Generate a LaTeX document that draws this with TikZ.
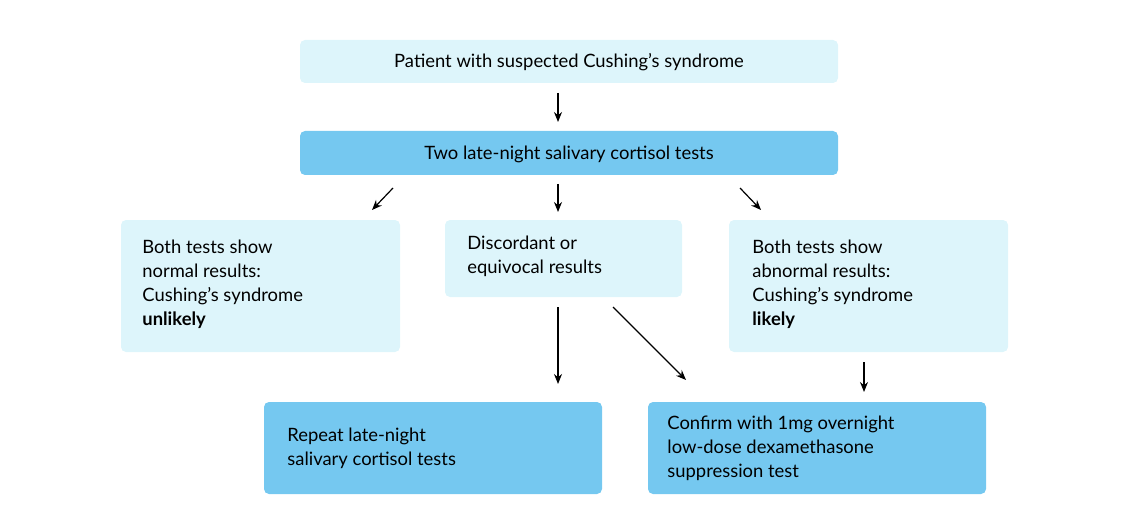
\documentclass[tikz,border=0pt]{standalone}
\usepackage{fontspec}
\setmainfont{Lato}
\usetikzlibrary{arrows.meta}
\definecolor{lb}{HTML}{DDF5FB}
\definecolor{db}{HTML}{75C8F0}
\begin{document}
\begin{tikzpicture}[x=0.5pt,y=-0.5pt,
 box/.style={rounded corners=2.5pt,draw=none},
 txt/.style={anchor=north west,align=left,font=\fontsize{9.2}{12}\selectfont,inner sep=0},
 ctxt/.style={anchor=center,font=\fontsize{9.2}{12}\selectfont,inner sep=0},
 arr/.style={-{Stealth[length=5pt,width=4pt]},line width=0.6pt}]
\useasboundingbox (0,0) rectangle (1138,529);
\fill[box,lb] (300,40) rectangle (838,83);
\node[ctxt] (t1) at (569,62) {Patient with suspected Cushing’s syndrome};
\fill[box,db] (300,131) rectangle (838,175);
\node[ctxt] (t2) at (569,154) {Two late-night salivary cortisol tests};
\fill[box,lb] (121,220) rectangle (400,352);
\node[txt] (t3) at (142,240) {Both tests show\\normal results:\\Cushing’s syndrome\\\textbf{unlikely}};
\fill[box,lb] (445,220) rectangle (682,297);
\node[txt] (t4) at (467,236) {Discordant or\\equivocal results};
\fill[box,lb] (729,220) rectangle (1008,352);
\node[txt] (t5) at (752,240) {Both tests show\\abnormal results:\\Cushing’s syndrome\\\textbf{likely}};
\fill[box,db] (264,402) rectangle (602,494);
\node[txt] (t6) at (287,428) {Repeat late-night\\salivary cortisol tests};
\fill[box,db] (648,402) rectangle (986,494);
\node[txt] (t7) at (667,416) {Confirm with 1mg overnight\\low-dose dexamethasone\\suppression test};
\coordinate (a1) at (558,93); \coordinate (b1) at (558,122);
\coordinate (a2) at (393,188); \coordinate (b2) at (372,210);
\coordinate (a3) at (558,184); \coordinate (b3) at (558,212);
\coordinate (a4) at (740,188); \coordinate (b4) at (761,210);
\coordinate (a5) at (558,307); \coordinate (b5) at (558,384);
\coordinate (a6) at (613,307); \coordinate (b6) at (686,380);
\coordinate (a7) at (864,362); \coordinate (b7) at (864,392);
\foreach \i in {1,...,7} \draw[arr] (a\i) -- (b\i);
\end{tikzpicture}
\end{document}
